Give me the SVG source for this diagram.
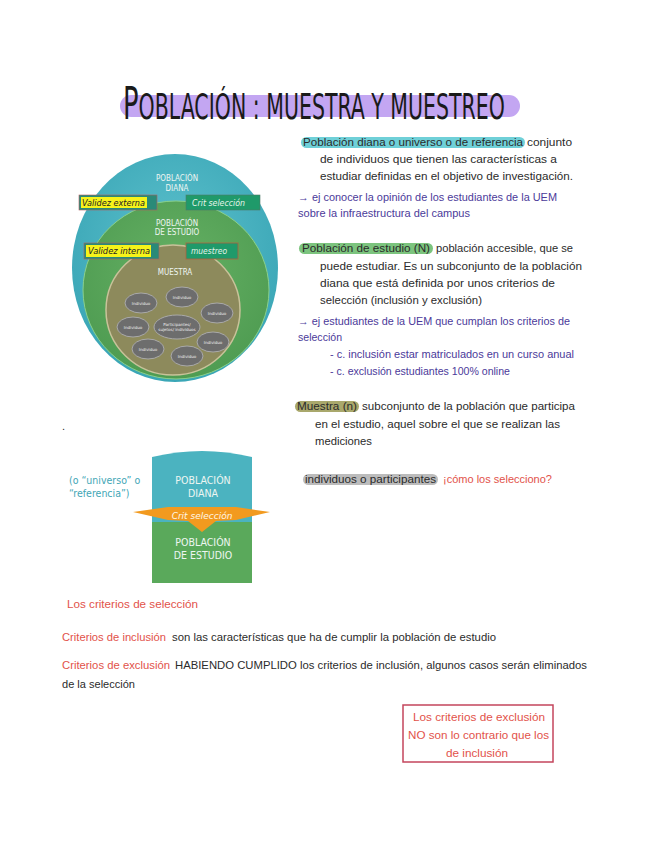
<svg xmlns="http://www.w3.org/2000/svg" width="648" height="848" viewBox="0 0 648 848">
<defs>
<style>
.hw{font-family:"Liberation Sans","DejaVu Sans",sans-serif;font-size:11px;fill:#2b2b2b;}
.pu{fill:#4b3a9a;}
.rd{fill:#e2524a;}
.dg{font-family:"DejaVu Sans Condensed","DejaVu Sans",sans-serif;fill:#eef6f2;text-anchor:middle;}
.ind{fill:#6d6d6d;stroke:#a9a9a9;stroke-width:1;}
.indt{font-family:"DejaVu Sans",sans-serif;font-size:4px;fill:#f0f0f0;text-anchor:middle;}
.bx{font-family:"DejaVu Sans",sans-serif;font-size:8px;font-style:italic;}
.tt{font-family:"Liberation Sans Narrow","DejaVu Sans Condensed",sans-serif;fill:#1a1a1a;}
</style>
<radialGradient id="gT" cx="0.5" cy="0.4" r="0.6"><stop offset="0" stop-color="#5cc0cc"/><stop offset="1" stop-color="#3aa6b6"/></radialGradient>
<radialGradient id="gG" cx="0.5" cy="0.4" r="0.6"><stop offset="0" stop-color="#66b164"/><stop offset="1" stop-color="#4f9c52"/></radialGradient>
</defs>
<rect width="648" height="848" fill="#ffffff"/>

<g id="title">
<rect x="120" y="95" width="400" height="22" rx="11" fill="#c3a6f2"/>
<text class="tt" x="123" y="119" font-size="35" textLength="382" lengthAdjust="spacingAndGlyphs"><tspan font-size="44">P</tspan>OBLACIÓN : MUESTRA Y MUESTREO</text>
</g>

<g id="circle-diagram">
<ellipse cx="175" cy="268" rx="103" ry="114" fill="url(#gT)"/>
<ellipse cx="176" cy="290" rx="93" ry="89" fill="url(#gG)" stroke="#8ad08a" stroke-width="1"/>
<ellipse cx="173" cy="310" rx="67" ry="65" fill="#8d8a5c" stroke="#c9c29a" stroke-width="1.5"/>
<text class="dg" x="177" y="181" font-size="8">POBLACIÓN</text>
<text class="dg" x="177" y="191" font-size="8">DIANA</text>
<text class="dg" x="177" y="226" font-size="8">POBLACIÓN</text>
<text class="dg" x="177" y="235" font-size="8">DE ESTUDIO</text>
<text class="dg" x="175" y="275" font-size="8">MUESTRA</text>
<g id="box-validez-externa">
<rect x="79" y="195" width="78" height="15" fill="#2a8a78" stroke="#b06060" stroke-width="0.6"/>
<rect x="81" y="197" width="66" height="11" fill="#f6f31a"/>
<text class="bx" x="82" y="206" fill="#222" textLength="63" lengthAdjust="spacingAndGlyphs">Validez externa</text>
</g>
<g id="box-crit-seleccion">
<rect x="186" y="195" width="74" height="15" fill="#1f9a6a" stroke="#4f7a6a" stroke-width="0.6"/>
<text class="bx" x="192" y="206" fill="#e6f4ea" textLength="53" lengthAdjust="spacingAndGlyphs">Crit selección</text>
</g>
<g id="box-validez-interna">
<rect x="84" y="243" width="75" height="16" fill="#2a8a78" stroke="#b06060" stroke-width="0.6"/>
<rect x="86" y="245" width="65" height="12" fill="#f6f31a"/>
<text class="bx" x="88" y="254" fill="#222" textLength="62" lengthAdjust="spacingAndGlyphs">Validez interna</text>
</g>
<g id="box-muestreo">
<rect x="186" y="243" width="52" height="16" fill="#1f9a6a" stroke="#b06040" stroke-width="0.8"/>
<text class="bx" x="191" y="254" fill="#e6f4ea" textLength="36" lengthAdjust="spacingAndGlyphs">muestreo</text>
</g>
<g id="individuos">
<ellipse class="ind" cx="141" cy="303" rx="16" ry="10"/><text class="indt" x="141" y="304.5">Individuo</text>
<ellipse class="ind" cx="182" cy="297" rx="16" ry="10"/><text class="indt" x="182" y="298.5">Individuo</text>
<ellipse class="ind" cx="217" cy="313" rx="16" ry="10"/><text class="indt" x="217" y="314.5">Individuo</text>
<ellipse class="ind" cx="133" cy="327" rx="16" ry="10"/><text class="indt" x="133" y="328.5">Individuo</text>
<ellipse class="ind" cx="177" cy="327" rx="23" ry="12"/><text class="indt" x="177" y="326">Participantes/</text><text class="indt" x="177" y="331">sujetos/ individuos</text>
<ellipse class="ind" cx="213" cy="342" rx="16" ry="10"/><text class="indt" x="213" y="343.5">Individuo</text>
<ellipse class="ind" cx="148" cy="349" rx="16" ry="10"/><text class="indt" x="148" y="350.5">Individuo</text>
<ellipse class="ind" cx="187" cy="356" rx="16" ry="10"/><text class="indt" x="187" y="357.5">Individuo</text>
</g>
</g>

<g id="text-poblacion-diana">
<rect x="301" y="137" width="224" height="11" rx="5.5" fill="#6fd0d8"/>
<text class="hw" x="303" y="146" textLength="220" lengthAdjust="spacingAndGlyphs">Población diana o universo o de referencia</text>
<text class="hw" x="527" y="146" textLength="45" lengthAdjust="spacingAndGlyphs">conjunto</text>
<text class="hw" x="320" y="163" textLength="237" lengthAdjust="spacingAndGlyphs">de individuos que tienen las características a</text>
<text class="hw" x="320" y="180" textLength="253" lengthAdjust="spacingAndGlyphs">estudiar definidas en el objetivo de investigación.</text>
<text class="hw pu" x="298" y="201" textLength="259" lengthAdjust="spacingAndGlyphs">→ ej conocer la opinión de los estudiantes de la UEM</text>
<text class="hw pu" x="298" y="217" textLength="172" lengthAdjust="spacingAndGlyphs">sobre la infraestructura del campus</text>
</g>

<g id="text-poblacion-estudio">
<rect x="299" y="243" width="134" height="11" rx="5.5" fill="#7cc47e"/>
<text class="hw" x="302" y="252" textLength="128" lengthAdjust="spacingAndGlyphs">Población de estudio (N)</text>
<text class="hw" x="436" y="252" textLength="137" lengthAdjust="spacingAndGlyphs">población accesible, que se</text>
<text class="hw" x="320" y="270" textLength="262" lengthAdjust="spacingAndGlyphs">puede estudiar. Es un subconjunto de la población</text>
<text class="hw" x="320" y="287" textLength="235" lengthAdjust="spacingAndGlyphs">diana que está definida por unos criterios de</text>
<text class="hw" x="320" y="304" textLength="162" lengthAdjust="spacingAndGlyphs">selección (inclusión y exclusión)</text>
<text class="hw pu" x="298" y="325" textLength="272" lengthAdjust="spacingAndGlyphs">→ ej estudiantes de la UEM que cumplan los criterios de</text>
<text class="hw pu" x="298" y="341" textLength="44" lengthAdjust="spacingAndGlyphs">selección</text>
<text class="hw pu" x="330" y="358" textLength="244" lengthAdjust="spacingAndGlyphs">- c. inclusión estar matriculados en un curso anual</text>
<text class="hw pu" x="330" y="375" textLength="180" lengthAdjust="spacingAndGlyphs">- c. exclusión estudiantes 100% online</text>
</g>

<g id="text-muestra">
<rect x="295" y="401" width="64" height="11" rx="5.5" fill="#a9a86c"/>
<text class="hw" x="297" y="410" textLength="60" lengthAdjust="spacingAndGlyphs">Muestra (n)</text>
<text class="hw" x="362" y="410" textLength="213" lengthAdjust="spacingAndGlyphs">subconjunto de la población que participa</text>
<text class="hw" x="315" y="428" textLength="245" lengthAdjust="spacingAndGlyphs">en el estudio, aquel sobre el que se realizan las</text>
<text class="hw" x="315" y="445" textLength="57" lengthAdjust="spacingAndGlyphs">mediciones</text>
</g>

<text class="hw" x="62" y="430" font-size="8">.</text>

<g id="text-individuos">
<rect x="303" y="474" width="135" height="11" rx="5.5" fill="#bcbcbc"/>
<text class="hw" x="305" y="483" textLength="131" lengthAdjust="spacingAndGlyphs">individuos o participantes</text>
<text class="hw rd" x="443" y="483" textLength="109" lengthAdjust="spacingAndGlyphs">¡cómo los selecciono?</text>
</g>

<g id="seleccion-diagram">
<text x="69" y="484" font-family="DejaVu Sans Condensed,DejaVu Sans,sans-serif" font-size="10.5" fill="#3fa6b6">(o “universo” o</text>
<text x="69" y="497" font-family="DejaVu Sans Condensed,DejaVu Sans,sans-serif" font-size="10.5" fill="#3fa6b6">“referencia”)</text>
<path d="M152,520 L152,583 L252,583 L252,520 Z" fill="#5aa95b"/>
<path d="M152,457 Q202,445 252,457 L252,522 L152,522 Z" fill="#4bb3c0"/>
<text class="dg" x="203" y="484" font-size="10.5">POBLACIÓN</text>
<text class="dg" x="203" y="497" font-size="10.5">DIANA</text>
<text class="dg" x="203" y="546" font-size="10.5">POBLACIÓN</text>
<text class="dg" x="203" y="559" font-size="10.5">DE ESTUDIO</text>
<path d="M133,512 L168,507 L236,507 L270,512 L236,520 L216,521 L202,532 L188,521 L168,520 Z" fill="#f29a1f"/>
<text x="202" y="519" font-family="DejaVu Sans,sans-serif" font-size="9" font-style="italic" fill="#fff6e6" text-anchor="middle">Crit selección</text>
</g>

<text class="hw rd" x="67" y="608" textLength="131" lengthAdjust="spacingAndGlyphs">Los criterios de selección</text>

<g id="text-criterios">
<text class="hw rd" x="62" y="641" textLength="104" lengthAdjust="spacingAndGlyphs">Criterios de inclusión</text>
<text class="hw" x="172" y="641" textLength="324" lengthAdjust="spacingAndGlyphs">son las características que ha de cumplir la población de estudio</text>
<text class="hw rd" x="62" y="669" textLength="108" lengthAdjust="spacingAndGlyphs">Criterios de exclusión</text>
<text class="hw" x="175" y="669" textLength="412" lengthAdjust="spacingAndGlyphs">HABIENDO CUMPLIDO los criterios de inclusión, algunos casos serán eliminados</text>
<text class="hw" x="62" y="688" textLength="73" lengthAdjust="spacingAndGlyphs">de la selección</text>
</g>

<g id="note-box">
<rect x="403" y="705" width="150" height="57" fill="none" stroke="#c4455c" stroke-width="1.5"/>
<text class="hw rd" x="413" y="721" textLength="132" lengthAdjust="spacingAndGlyphs">Los criterios de exclusión</text>
<text class="hw rd" x="408" y="739" textLength="141" lengthAdjust="spacingAndGlyphs">NO son lo contrario que los</text>
<text class="hw rd" x="446" y="757" textLength="62" lengthAdjust="spacingAndGlyphs">de inclusión</text>
</g>
</svg>
